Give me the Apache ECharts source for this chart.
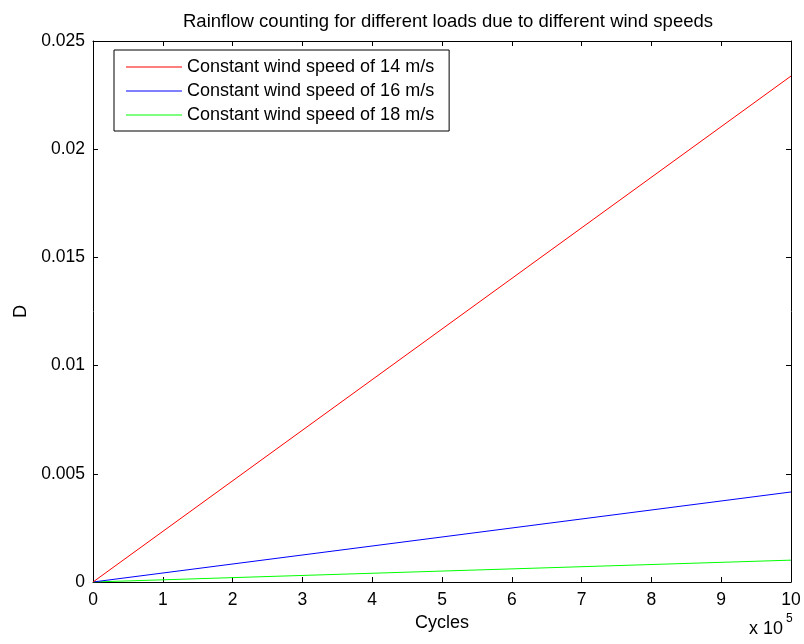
<!DOCTYPE html>
<html>
<head>
<meta charset="utf-8">
<script src="https://cdn.jsdelivr.net/npm/echarts@6/dist/echarts.min.js"></script>
<style>
html, body { margin: 0; padding: 0; background: #fff; }
#chart { width: 804px; height: 644px; }
</style>
</head>
<body>
<div id="chart"></div>
<script>
// cycles in units of 1e5
const cycles = [0, 10];
const d14 = [0, 0.02338];
const d16 = [0, 0.00416];
const d18 = [0, 0.00101];
const seriesNames = ['Constant wind speed of 14 m/s', 'Constant wind speed of 16 m/s', 'Constant wind speed of 18 m/s'];
const colors = ['#ff0000', '#0000ff', '#00ff00'];

const font = 'Liberation Sans, Arial, Helvetica, sans-serif';
const chart = echarts.init(document.getElementById('chart'));

function pairs(ys) {
    return cycles.map((x, i) => [x, ys[i]]);
}

const tickStyle = { show: true, inside: true, length: 5, lineStyle: { color: '#000', width: 1 } };

const option = {
    animation: false,
    title: {
        text: 'Rainflow counting for different loads due to different wind speeds',
        left: 443, top: 7, textAlign: 'center',
        textStyle: { fontFamily: font, fontSize: 18.5, fontWeight: 'normal', color: '#000' }
    },
    legend: {
        orient: 'vertical',
        left: 114, top: 50,
        padding: [5, 15, 4, 12],
        itemGap: 0,
        itemWidth: 56, itemHeight: 1,
        icon: 'rect',
        borderColor: '#000', borderWidth: 1,
        backgroundColor: '#fff',
        textStyle: { fontFamily: font, fontSize: 18, lineHeight: 24, color: '#000' },
        data: seriesNames
    },
    grid: { left: 93, right: 13, top: 41, bottom: 62 },
    xAxis: [{
        type: 'value', min: 0, max: 10, interval: 1,
        name: 'Cycles', nameLocation: 'middle', nameGap: 30,
        nameTextStyle: { fontFamily: font, fontSize: 18, color: '#000' },
        axisLine: { onZero: false, lineStyle: { color: '#000', width: 1 } },
        axisTick: tickStyle,
        axisLabel: { fontFamily: font, fontSize: 17.5, color: '#000', margin: 9 },
        splitLine: { show: false }
    }, {
        type: 'value', min: 0, max: 10, interval: 1, position: 'top',
        axisLine: { onZero: false, lineStyle: { color: '#000', width: 1 } },
        axisTick: tickStyle,
        axisLabel: { show: false },
        splitLine: { show: false }
    }],
    yAxis: [{
        type: 'value', min: 0, max: 0.025, interval: 0.005,
        name: 'D', nameLocation: 'middle', nameGap: 62,
        nameTextStyle: { fontFamily: font, fontSize: 18, color: '#000' },
        axisLine: { show: true, onZero: false, lineStyle: { color: '#000', width: 1 } },
        axisTick: tickStyle,
        axisLabel: { fontFamily: font, fontSize: 17.5, color: '#000', margin: 8 },
        splitLine: { show: false }
    }, {
        type: 'value', min: 0, max: 0.025, interval: 0.005, position: 'right',
        axisLine: { show: true, onZero: false, lineStyle: { color: '#000', width: 1 } },
        axisTick: tickStyle,
        axisLabel: { show: false },
        splitLine: { show: false }
    }],
    graphic: [{
        type: 'text', left: 749, top: 620,
        style: { text: 'x 10', fontFamily: font, fontSize: 18, fill: '#000' }
    }, {
        type: 'text', left: 786, top: 613,
        style: { text: '5', fontFamily: font, fontSize: 12, fill: '#000' }
    }],
    series: [d14, d16, d18].map((ys, i) => ({
        name: seriesNames[i],
        type: 'line',
        data: pairs(ys),
        showSymbol: false,
        lineStyle: { color: colors[i], width: 1 },
        itemStyle: { color: colors[i] },
        z: 3 - i
    }))
};

chart.setOption(option);
</script>
</body>
</html>
